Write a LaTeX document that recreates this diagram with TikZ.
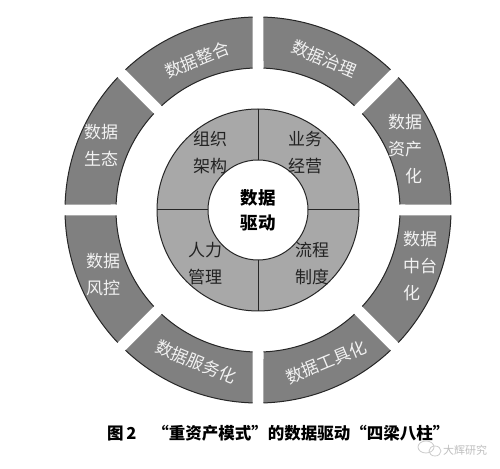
\documentclass[tikz,border=0pt]{standalone}
\usepackage{fontspec}
\setmainfont{Noto Sans CJK SC}
\definecolor{outergray}{HTML}{808080}
\definecolor{midgray}{HTML}{A8A8A8}
\definecolor{ringtext}{HTML}{F2F2F2}
\definecolor{inktext}{HTML}{222222}
\begin{document}
\begin{tikzpicture}[x=1pt,y=1pt,
  arcline/.style={draw=black!85,line width=1pt},
  outertext/.style={text=ringtext,font=\fontsize{17}{27}\selectfont,align=center,inner sep=0pt},
  innertext/.style={text=inktext,font=\fontsize{17}{27}\selectfont,align=center,inner sep=0pt},
  centertext/.style={text=black,font=\bfseries\fontsize{17.5}{25}\selectfont,align=center,inner sep=0pt},
  captiontext/.style={text=black,font=\bfseries\fontsize{16.5}{18}\selectfont,inner sep=0pt},
  marktext/.style={text=black!25,font=\fontsize{11}{12}\selectfont,inner sep=0pt}
]
\useasboundingbox (0,0) rectangle (500,468);
\fill[white] (0,0) rectangle (500,468);
\coordinate (C) at (258,258);
% outer ring segments
\foreach \a in {0,45,...,315}{
  \pgfmathsetmacro\ao{\a+1.63}
  \pgfmathsetmacro\bo{\a+45-1.63}
  \pgfmathsetmacro\ai{\a+2.22}
  \pgfmathsetmacro\bi{\a+45-2.22}
  \fill[outergray] ([shift={(\ao:193pt)}]C) arc[start angle=\ao,end angle=\bo,radius=193pt]
     -- ([shift={(\bi:142pt)}]C) arc[start angle=\bi,end angle=\ai,radius=142pt] -- cycle;
  \draw[arcline] ([shift={(\ao:193pt)}]C) arc[start angle=\ao,end angle=\bo,radius=193pt];
  \draw[arcline] ([shift={(\ai:142pt)}]C) arc[start angle=\ai,end angle=\bi,radius=142pt];
}
% middle ring
\filldraw[fill=midgray,arcline] (C) circle[radius=101pt];
\foreach \a in {0,90,180,270}{
  \draw[arcline] ([shift={(\a:50pt)}]C) -- ([shift={(\a:101pt)}]C);
}
\filldraw[fill=white,arcline] (C) circle[radius=50pt];
% outer texts
\node[outertext,rotate=22.5] (zhenghe) at (197,408) {数据整合};
\node[outertext,rotate=-22.5] (zhili) at (324,409) {数据治理};
\node[outertext,align=right] (zichan) at (405,319) {数据\\资产\\化};
\node[outertext,align=left] (zhongtai) at (420,202) {数据\\中台\\化};
\node[outertext,rotate=22.5] (gongju) at (326,106) {数据工具化};
\node[outertext,rotate=-22.5] (fuwu) at (196,106) {数据服务化};
\node[outertext] (fengkong) at (103,193) {数据\\风控};
\node[outertext] (shengtai) at (101,323) {数据\\生态};
% inner texts
\node[innertext] (zuzhi) at (210,315) {组织\\架构};
\node[innertext] (yewu) at (305,315) {业务\\经营};
\node[innertext] (renli) at (205,204) {人力\\管理};
\node[innertext] (liucheng) at (312,204) {流程\\制度};
\node[centertext] (qudong) at (C) {数据\\驱动};
% caption
\node[captiontext,anchor=west] (caption) at (107,35) {图\,2\hspace{16pt}“重资产模式”的数据驱动“四梁八柱”};
% watermark
\draw[black!20,line width=0.8pt] (426,21) ellipse[x radius=8pt,y radius=6pt];
\draw[black!20,line width=0.8pt] (435,17) ellipse[x radius=6pt,y radius=5pt];
\node[marktext,anchor=west] (mark) at (443,18) {大辉研究};
\end{tikzpicture}
\end{document}
